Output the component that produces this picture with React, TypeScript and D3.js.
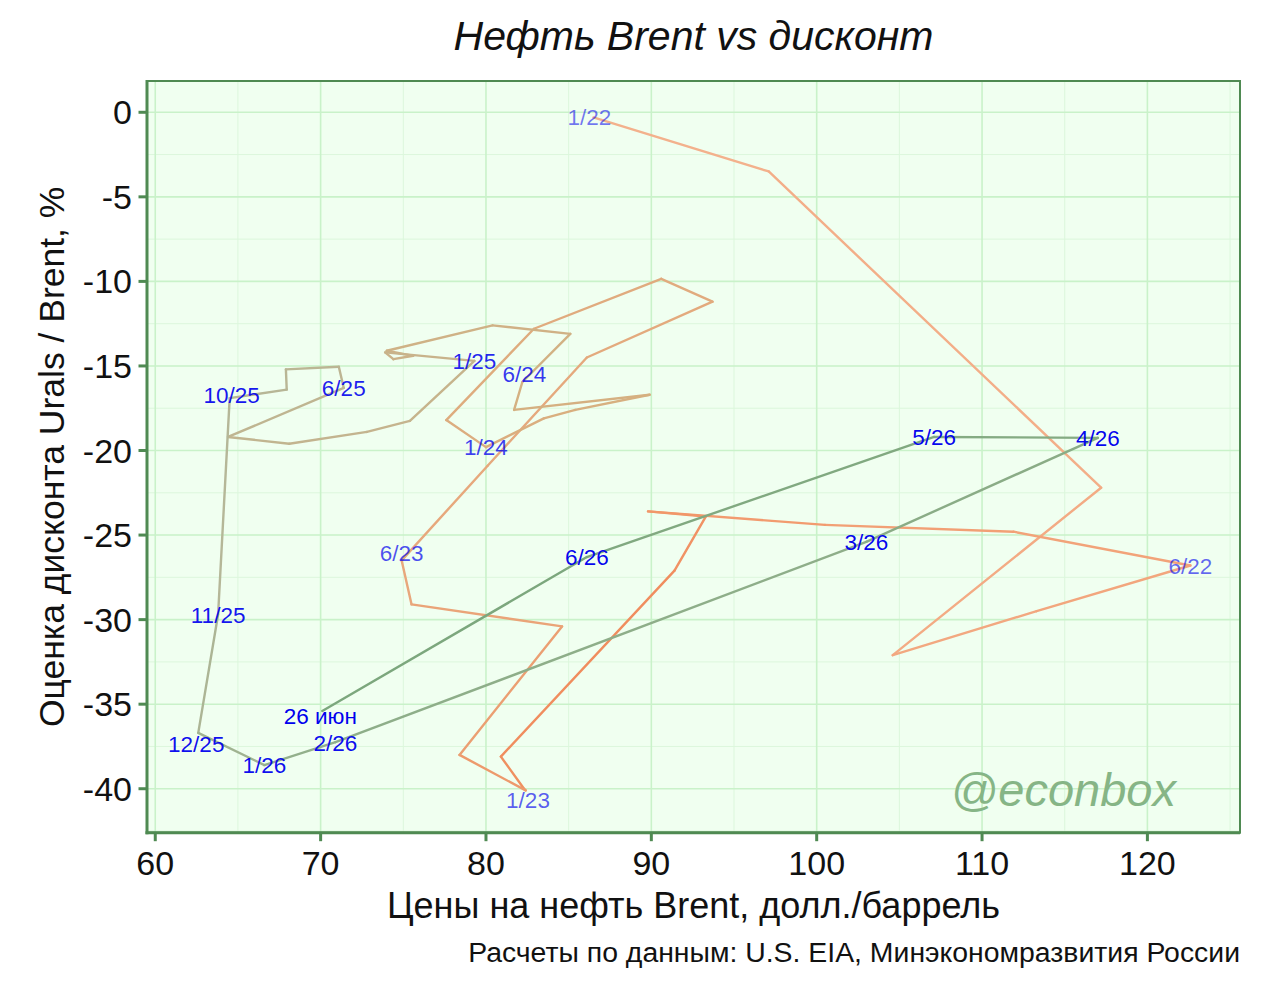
import * as d3 from "d3";

// monthly points, Brent (USD/bbl) vs Urals discount (%)
const months = [
  "1/22", "2/22", "3/22", "4/22", "5/22", "6/22", "7/22", "8/22", "9/22", "10/22", "11/22", "12/22",
  "1/23", "2/23", "3/23", "4/23", "5/23", "6/23", "7/23", "8/23", "9/23", "10/23", "11/23", "12/23",
  "1/24", "2/24", "3/24", "4/24", "5/24", "6/24", "7/24", "8/24", "9/24", "10/24", "11/24", "12/24",
  "1/25", "2/25", "3/25", "4/25", "5/25", "6/25", "7/25", "8/25", "9/25", "10/25", "11/25", "12/25",
  "1/26", "2/26", "3/26", "4/26", "5/26", "6/26", "26 июн",
];

const brent = [
  86.5, 97.1, 117.2, 104.6, 113.3, 122.6, 111.9, 100.5, 89.8, 93.3, 91.4, 80.9,
  82.3, 82.4, 78.4, 84.6, 75.5, 74.9, 80.1, 86.1, 93.7, 90.6, 82.9, 77.6,
  80.0, 83.5, 85.4, 89.9, 81.7, 82.2, 85.1, 80.4, 74.0, 75.6, 74.4, 73.9,
  79.3, 75.4, 72.8, 68.1, 64.4, 71.4, 71.1, 67.9, 67.95, 64.5, 63.8, 62.6,
  66.6, 70.9, 103.0, 117.0, 107.1, 86.1, 70.1,
];

const discount = [
  -0.3, -3.5, -22.2, -32.1, -29.5, -26.8, -24.8, -24.4, -23.6, -23.9, -27.1, -38.1,
  -40.0, -40.1, -38.0, -30.4, -29.1, -26.5, -20.9, -14.5, -11.2, -9.85, -12.8, -18.2,
  -19.8, -18.1, -17.6, -16.7, -17.6, -15.95, -13.1, -12.6, -14.1, -14.4, -14.6, -14.2,
  -14.7, -18.25, -18.9, -19.6, -19.2, -16.3, -15.05, -15.2, -16.4, -16.9, -29.7, -36.7,
  -38.6, -37.25, -25.4, -19.25, -19.2, -26.3, -35.4,
];

const labelled = [
  "1/22", "6/22", "1/23", "6/23", "1/24", "6/24", "1/25", "6/25", "10/25", "11/25",
  "12/25", "1/26", "2/26", "3/26", "4/26", "5/26", "6/26", "26 июн",
];

const xTicks = [60, 70, 80, 90, 100, 110, 120];
const yTicks = [0, -5, -10, -15, -20, -25, -30, -35, -40];

// small pixel nudges so labels don't sit right on the vertex
const nudge: Record<string, [number, number]> = {
  "1/22": [-4, 0],
  "1/23": [4, 11],
  "6/23": [0, -8],
  "6/24": [2, -8],
  "10/25": [2, -3],
  "12/25": [-2, 11],
  "2/26": [0, 1],
  "26 июн": [-2, 5],
};

const W = 1280;
const H = 984;
const panel = { left: 147, right: 1240, top: 81, bottom: 832.7 };
const font = "'Liberation Sans', Arial, sans-serif";
const axisGreen = "#4f8a52";

export default function App() {
  const x = d3.scaleLinear().domain([59.5, 125.6]).range([panel.left, panel.right]);
  const y = d3.scaleLinear().domain([-42.6, 1.85]).range([panel.bottom, panel.top]);

  const n = months.length;
  const lineColor = d3
    .scaleLinear<string>()
    .domain([0, 0.12, 0.2, 0.3, 0.5, 0.7, 0.85, 0.9, 1])
    .range(["#f3b28e", "#f2a075", "#f08c5c", "#e9a77c", "#d6b080", "#c4b48e", "#b4b798", "#92b08c", "#7aa67c"])
    .interpolate(d3.interpolateRgb);

  const xMinor = d3.range(65, 126, 10);
  const yMinor = d3.range(-42.5, 2, 5);

  const segs = d3.range(n - 1).map((i) => ({
    x1: x(brent[i]),
    y1: y(discount[i]),
    x2: x(brent[i + 1]),
    y2: y(discount[i + 1]),
    c: lineColor((i + 0.5) / (n - 1)),
  }));

  const labels = labelled.map((m) => {
    const i = months.indexOf(m);
    const [dx, dy] = nudge[m] || [0, 0];
    return {
      m,
      px: x(brent[i]) + dx,
      py: y(discount[i]) + dy,
      op: 0.55 + 0.45 * (i / (n - 1)),
    };
  });

  return (
    <svg
      width={W}
      height={H}
      style={{ position: "absolute", left: 0, top: 0, background: "#fff" }}
      fontFamily={font}
    >
      <rect
        x={panel.left}
        y={panel.top}
        width={panel.right - panel.left}
        height={panel.bottom - panel.top}
        fill="#f0fff0"
      />
      {xMinor.map((v) => (
        <line key={"xm" + v} x1={x(v)} x2={x(v)} y1={panel.top} y2={panel.bottom} stroke="#dcf7dc" strokeWidth={1} />
      ))}
      {yMinor.map((v) => (
        <line key={"ym" + v} x1={panel.left} x2={panel.right} y1={y(v)} y2={y(v)} stroke="#dcf7dc" strokeWidth={1} />
      ))}
      {xTicks.map((v) => (
        <line key={"xg" + v} x1={x(v)} x2={x(v)} y1={panel.top} y2={panel.bottom} stroke="#c9f2c9" strokeWidth={1.6} />
      ))}
      {yTicks.map((v) => (
        <line key={"yg" + v} x1={panel.left} x2={panel.right} y1={y(v)} y2={y(v)} stroke="#c9f2c9" strokeWidth={1.6} />
      ))}

      {/* panel border + heavier axis lines */}
      <rect
        x={panel.left}
        y={panel.top}
        width={panel.right - panel.left}
        height={panel.bottom - panel.top}
        fill="none"
        stroke={axisGreen}
        strokeWidth={2}
      />
      <line x1={panel.left} x2={panel.left} y1={panel.top - 1} y2={panel.bottom + 1.5} stroke={axisGreen} strokeWidth={3} />
      <line x1={panel.left - 1.5} x2={panel.right} y1={panel.bottom} y2={panel.bottom} stroke={axisGreen} strokeWidth={3} />

      {xTicks.map((v) => (
        <g key={"xt" + v}>
          <line x1={x(v)} x2={x(v)} y1={panel.bottom} y2={panel.bottom + 8.5} stroke={axisGreen} strokeWidth={3} />
          <text x={x(v)} y={875} textAnchor="middle" fontSize={34} fill="#111">
            {v}
          </text>
        </g>
      ))}
      {yTicks.map((v) => (
        <g key={"yt" + v}>
          <line x1={panel.left - 8.5} x2={panel.left} y1={y(v)} y2={y(v)} stroke={axisGreen} strokeWidth={3} />
          <text x={132} y={y(v) + 12} textAnchor="end" fontSize={34} fill="#111">
            {v}
          </text>
        </g>
      ))}

      {segs.map((s, i) => (
        <line
          key={"s" + i}
          x1={s.x1}
          y1={s.y1}
          x2={s.x2}
          y2={s.y2}
          stroke={s.c}
          strokeWidth={2.4}
          strokeLinecap="round"
        />
      ))}

      {labels.map((l) => (
        <text
          key={l.m}
          x={l.px}
          y={l.py}
          dy="0.36em"
          textAnchor="middle"
          fontSize={22.5}
          fill="#0000ee"
          fillOpacity={l.op}
        >
          {l.m}
        </text>
      ))}

      <text x={1176} y={806} textAnchor="end" fontSize={47} fontStyle="italic" fill="#86b586">
        @econbox
      </text>

      <text x={(panel.left + panel.right) / 2} y={50} textAnchor="middle" fontSize={41} fontStyle="italic" fill="#111">
        Нефть Brent vs дисконт
      </text>
      <text x={(panel.left + panel.right) / 2} y={918} textAnchor="middle" fontSize={36} fill="#111">
        Цены на нефть Brent, долл./баррель
      </text>
      <text
        transform={`translate(64,${(panel.top + panel.bottom) / 2}) rotate(-90)`}
        textAnchor="middle"
        fontSize={35.5}
        fill="#111"
      >
        Оценка дисконта Urals / Brent, %
      </text>
      <text x={1240} y={962} textAnchor="end" fontSize={28.4} fill="#111">
        Расчеты по данным: U.S. EIA, Минэкономразвития России
      </text>
    </svg>
  );
}
